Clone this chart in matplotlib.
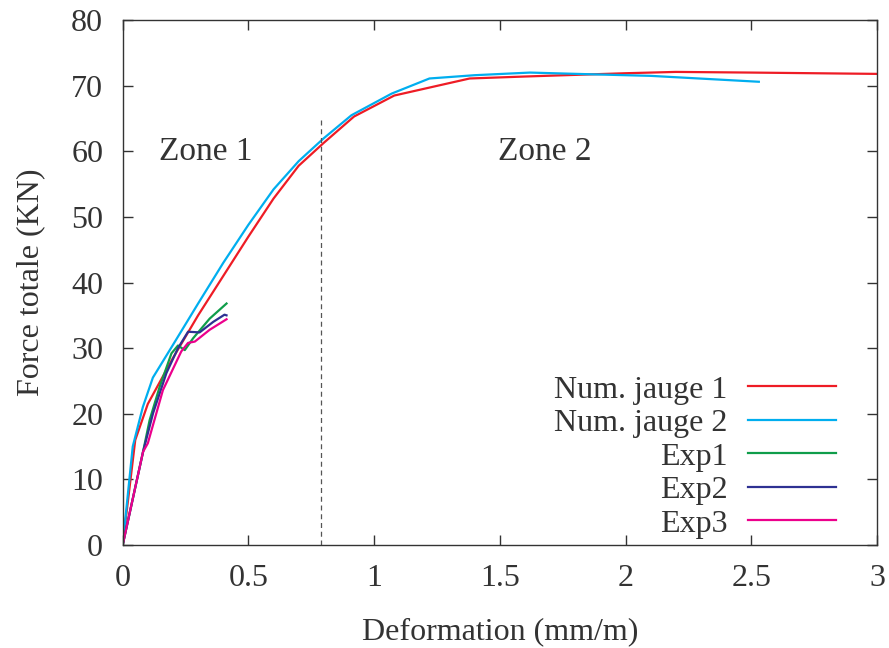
import matplotlib.pyplot as plt

plt.rcParams['font.family'] = ['Liberation Serif', 'DejaVu Serif']

# Num. jauge 1
x_j1 = [0, 0.05, 0.1, 0.2, 0.3, 0.4, 0.5, 0.6, 0.7, 0.8, 0.92, 1.08, 1.38, 1.6, 2.0, 2.2, 2.5, 3.0]
y_j1 = [0, 16, 21.5, 28.5, 35.0, 41.0, 47.0, 52.8, 57.8, 61.3, 65.3, 68.5, 71.1, 71.4, 71.9, 72.1, 72.0, 71.8]

# Num. jauge 2
x_j2 = [0, 0.04, 0.08, 0.12, 0.2, 0.3, 0.4, 0.5, 0.6, 0.7, 0.8, 0.91, 1.07, 1.22, 1.4, 1.62, 1.9, 2.1, 2.53]
y_j2 = [0, 15, 21, 25.5, 30.5, 36.8, 43.0, 48.8, 54.2, 58.5, 62.0, 65.5, 68.8, 71.1, 71.6, 72.0, 71.7, 71.5, 70.6]

# Exp1
x_e1 = [0, 0.081, 0.107, 0.147, 0.194, 0.22, 0.247, 0.28, 0.346, 0.413]
y_e1 = [0, 14.2, 19.0, 24.1, 29.2, 30.4, 29.7, 31.5, 34.5, 36.8]

# Exp2
x_e2 = [0, 0.081, 0.121, 0.174, 0.22, 0.26, 0.306, 0.36, 0.405, 0.413]
y_e2 = [0, 14.2, 20.1, 26.2, 30.0, 32.5, 32.4, 34.0, 35.1, 35.0]

# Exp3
x_e3 = [0, 0.081, 0.1, 0.16, 0.233, 0.26, 0.287, 0.346, 0.413]
y_e3 = [0, 14.2, 15.5, 23.6, 29.5, 30.8, 31.0, 32.8, 34.4]

fig = plt.figure(figsize=(8.89, 6.48), dpi=100)
ax = fig.add_axes([0.138, 0.159, 0.8485, 0.81])

ax.plot(x_j1, y_j1, color='#ee1c25', lw=1.6, label='Num. jauge 1')
ax.plot(x_j2, y_j2, color='#00aeef', lw=1.6, label='Num. jauge 2')
ax.plot(x_e1, y_e1, color='#0f9d4a', lw=1.6, label='Exp1')
ax.plot(x_e2, y_e2, color='#2e3192', lw=1.6, label='Exp2')
ax.plot(x_e3, y_e3, color='#ec008c', lw=1.6, label='Exp3')

ax.plot([0.79, 0.79], [0, 65], color='#555555', lw=0.9, ls=(0, (4, 3)))

ax.text(0.33, 60, 'Zone 1', fontsize=24, ha='center', va='center', color='#333333')
ax.text(1.68, 60, 'Zone 2', fontsize=24, ha='center', va='center', color='#333333')

ax.set_xlim(0, 3)
ax.set_ylim(0, 80)
ax.set_xticks([0, 0.5, 1, 1.5, 2, 2.5, 3])
ax.set_xticklabels(['0', '0.5', '1', '1.5', '2', '2.5', '3'])
ax.set_yticks(range(0, 81, 10))
ax.tick_params(direction='in', top=True, right=True, length=7, width=1,
               labelsize=23, colors='#333333')
ax.tick_params(axis='x', pad=14)
ax.tick_params(axis='y', pad=14)
for s in ax.spines.values():
    s.set_color('#333333')
    s.set_linewidth(1)

ax.set_xlabel('Deformation (mm/m)', fontsize=23, color='#333333', labelpad=17)
ax.set_ylabel('Force totale (KN)', fontsize=23, color='#333333', labelpad=19)

leg = ax.legend(loc='lower right', bbox_to_anchor=(0.9456, 0.012), frameon=False,
                markerfirst=False, fontsize=23, handlelength=2.75, labelspacing=0.13,
                borderaxespad=0, borderpad=0, handletextpad=0.65)
for t in leg.get_texts():
    t.set_ha('right')
    t.set_color('#333333')

fig.savefig('out.png', dpi=100)
